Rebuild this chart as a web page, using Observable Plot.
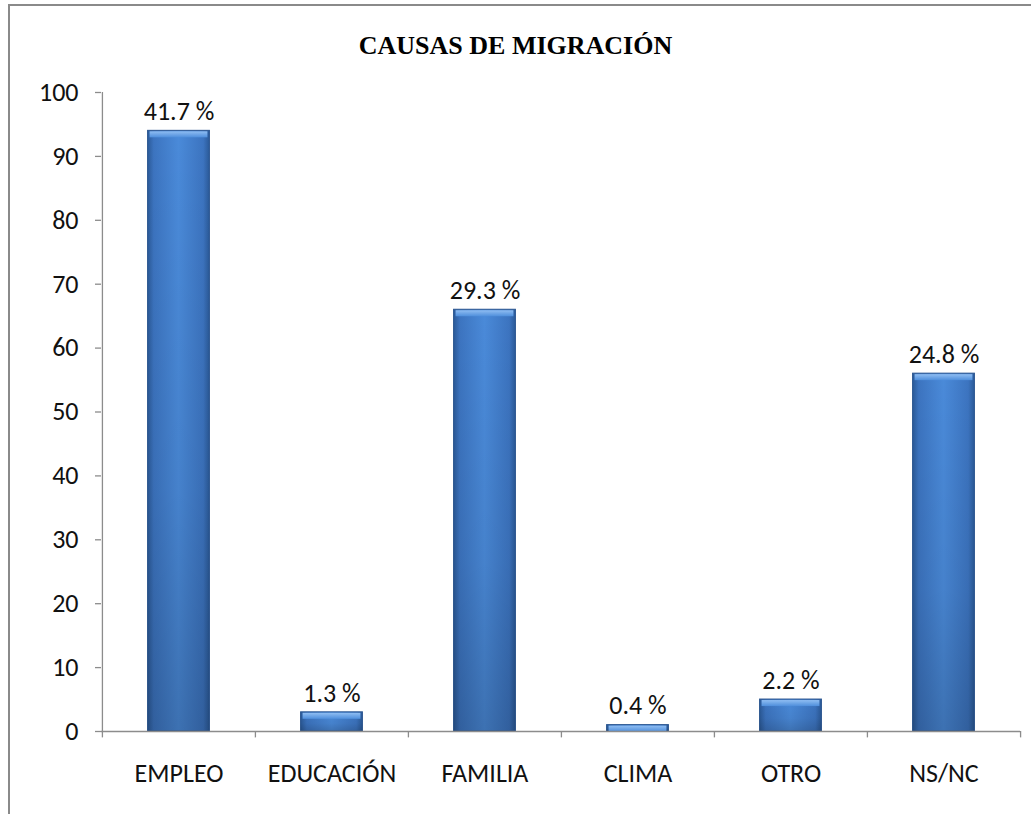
<!DOCTYPE html>
<html>
<head>
<meta charset="utf-8">
<script src="https://cdn.jsdelivr.net/npm/d3@7"></script>
<script src="https://cdn.jsdelivr.net/npm/@observablehq/plot@0.6"></script>
<style>
  html, body { margin: 0; padding: 0; background: #fff; }
  #wrap { position: relative; width: 1031px; height: 814px; overflow: hidden; }
  #border { position: absolute; left: 8px; top: 4px; width: 1100px; height: 900px;
            border-left: 2px solid #8a8a8a; border-top: 2px solid #8a8a8a; }
  #title { position: absolute; left: 0; width: 1031px; top: 31px; text-align: center;
           font-family: "Liberation Serif", "DejaVu Serif", serif; font-weight: bold;
           font-size: 26px; line-height: 30px; color: #000; }
  #chart { position: absolute; left: 0; top: 0; }
</style>
</head>
<body>
<div id="wrap">
  <div id="border"></div>
  <div id="chart"></div>
  <div id="title">CAUSAS DE MIGRACIÓN</div>
</div>
<script>
const categories = ["EMPLEO", "EDUCACIÓN", "FAMILIA", "CLIMA", "OTRO", "NS/NC"];
const counts = [94, 3, 66, 1, 5, 56];
const percentLabels = ["41.7", "1.3", "29.3", "0.4", "2.2", "24.8"];
const yTicks = [0, 10, 20, 30, 40, 50, 60, 70, 80, 90, 100];

const data = categories.map((c, i) => ({cat: c, v: counts[i], pct: percentLabels[i]}));

const width = 1031, height = 814;
const marginLeft = 101, marginRight = 11, marginTop = 92, marginBottom = 83;
const bw = (width - marginLeft - marginRight) / categories.length;
const inset = (bw - 62) / 2;
const font = "Carlito, Lato, 'Open Sans', sans-serif";

const plot = Plot.plot({
  width, height, marginLeft, marginRight, marginTop, marginBottom,
  style: {fontFamily: font, background: "transparent", color: "#000"},
  x: {domain: categories, padding: 0, label: null},
  y: {domain: [0, 100], label: null},
  marks: [
    Plot.barY(data, {x: "cat", y: "v", insetLeft: inset, insetRight: inset, fill: "url(#gradH)", stroke: "#2a5590", strokeWidth: 1}),
    Plot.barY(data, {x: "cat", y: "v", insetLeft: inset, insetRight: inset, fill: "url(#gradV)"}),
    Plot.barY(data, {x: "cat", y1: "v", y2: "v", insetLeft: inset + 2, insetRight: inset + 2, insetTop: 1, insetBottom: -7, fill: "url(#gradTop)"}),
    Plot.ruleY([0], {stroke: "#8c8c8c", strokeWidth: 1.3}),
    Plot.ruleX(categories, {x: d => d, dx: -bw / 2, y1: 0, y2: -1, stroke: "#8c8c8c", strokeWidth: 1.3}),
    Plot.ruleX([categories[categories.length - 1]], {x: d => d, dx: bw / 2, y1: 0, y2: -1, stroke: "#8c8c8c", strokeWidth: 1.3}),
    Plot.ruleX([categories[0]], {x: d => d, dx: -bw / 2, y1: 0, y2: 100, stroke: "#8c8c8c", strokeWidth: 1.3}),
    Plot.axisY({ticks: yTicks, tickSize: 6, tickPadding: 17, fontSize: 26, stroke: "#8c8c8c", strokeWidth: 1.3, fill: "#111", tickFormat: d => String(d), label: null}),
    Plot.axisX({tickSize: 0, tickPadding: 32, fontSize: 26, fill: "#111", label: null}),
    Plot.text(data, {x: "cat", y: "v", text: d => d.pct + "\u00a0%", dy: -19, fontSize: 26, fill: "#111"})
  ]
});

const svg = d3.select(plot);
const defs = svg.insert("defs", ":first-child");
const gh = defs.append("linearGradient").attr("id", "gradH").attr("x1", 0).attr("x2", 1).attr("y1", 0).attr("y2", 0);
[[0, "#2b5a98"], [0.1, "#3c74c0"], [0.5, "#4a8ad9"], [0.9, "#3c74c0"], [1, "#2b5a98"]].forEach(([o, c]) =>
  gh.append("stop").attr("offset", o).attr("stop-color", c));
const gv = defs.append("linearGradient").attr("id", "gradV").attr("x1", 0).attr("x2", 0).attr("y1", 0).attr("y2", 1);
[[0, "#000", 0], [0.6, "#000", 0.06], [1, "#000", 0.18]].forEach(([o, c, a]) =>
  gv.append("stop").attr("offset", o).attr("stop-color", c).attr("stop-opacity", a));
const gt = defs.append("linearGradient").attr("id", "gradTop").attr("x1", 0).attr("x2", 0).attr("y1", 0).attr("y2", 1);
[[0, "#8fbdf2"], [1, "#4f8fdc"]].forEach(([o, c]) =>
  gt.append("stop").attr("offset", o).attr("stop-color", c));

document.getElementById("chart").appendChild(plot);
</script>
</body>
</html>
